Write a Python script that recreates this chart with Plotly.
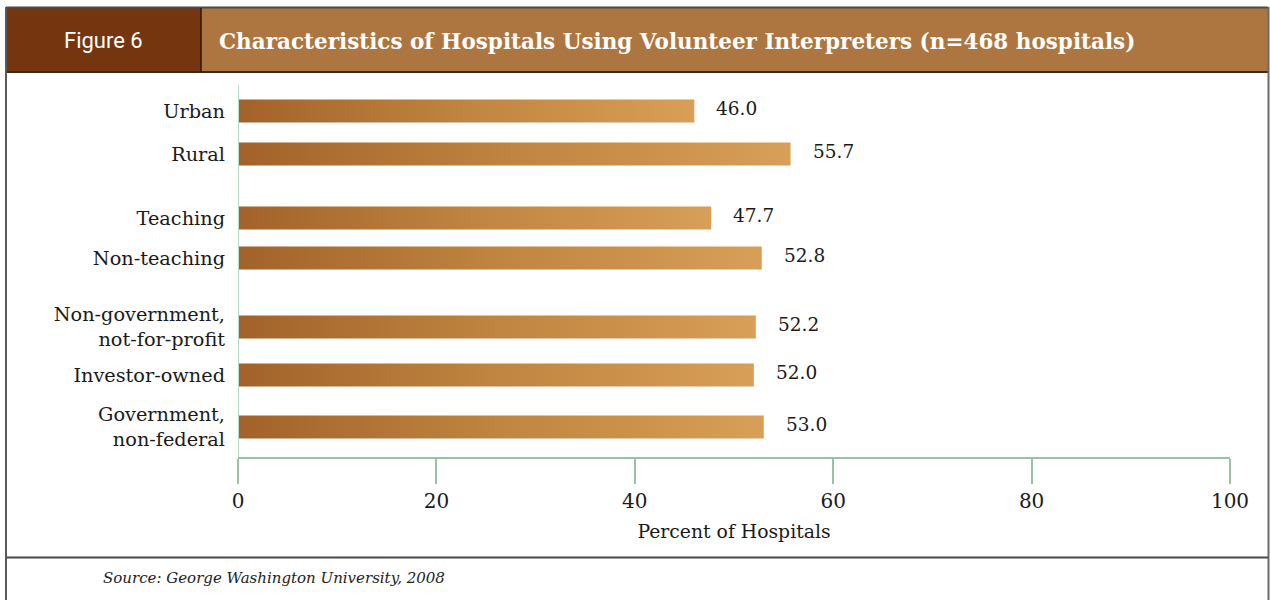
import plotly.graph_objects as go

# ---- data ----
categories = ["Urban", "Rural", "Teaching", "Non-teaching",
              "Non-government,<br>not-for-profit", "Investor-owned",
              "Government,<br>non-federal"]
values = [46.0, 55.7, 47.7, 52.8, 52.2, 52.0, 53.0]
x_ticks = [0, 20, 40, 60, 80, 100]
x_title = "Percent of Hospitals"
fig_label = "Figure 6"
title = "Characteristics of Hospitals Using Volunteer Interpreters (n=468 hospitals)"
source = "Source: George Washington University, 2008"

# ---- layout constants ----
W, H = 1270, 600
L, R, T, B = 238, 40, 85, 143
PW, PH = W - L - R, H - T - B
row_pos = [346, 303, 239, 199, 130, 82, 30]   # row centres (y axis units = px above x axis)
bar_h = 23
SERIF = "DejaVu Serif"
AXIS_COL = "#98c2a6"
TXT = "#1a1a1a"

def px(x):
    return (x - L) / PW

def py(y):
    return (H - B - y) / PH

fig = go.Figure()

for cat, v, p in zip(categories, values, row_pos):
    lo, hi = p - bar_h / 2, p + bar_h / 2
    fig.add_trace(go.Scatter(
        x=[0, v, v, 0, 0], y=[lo, lo, hi, hi, lo],
        mode="lines", fill="toself",
        line=dict(width=0, color="rgba(0,0,0,0)"),
        fillgradient=dict(type="horizontal",
                          colorscale=[[0, "#a2622a"], [0.5, "#c08540"], [1, "#d89f58"]]),
        hoverinfo="skip", showlegend=False,
    ))
    fig.add_annotation(x=v, y=p, xref="x", yref="y", text=f"{v:.1f}",
                       showarrow=False, xanchor="left", xshift=20, yshift=3,
                       font=dict(family=SERIF, size=18.5, color=TXT))

fig.update_xaxes(range=[0, 100], tickvals=x_ticks, showgrid=False, zeroline=False,
                 showline=True, linecolor=AXIS_COL, linewidth=1.5,
                 ticks="outside", ticklen=25, tickcolor=AXIS_COL, tickwidth=1.5,
                 tickfont=dict(family=SERIF, size=20, color=TXT),
                 title=dict(text=x_title, standoff=13,
                            font=dict(family=SERIF, size=18.8, color=TXT)),
                 fixedrange=True)
fig.update_yaxes(range=[0, PH], tickvals=row_pos, ticktext=categories,
                 showgrid=False, zeroline=False, showline=False, ticks="",
                 ticklabelstandoff=12,
                 tickfont=dict(family=SERIF, size=19.3, color=TXT),
                 fixedrange=True)

shapes = []
# vertical axis line extending below the x axis
shapes.append(dict(type="line", xref="x", yref="y", x0=0, x1=0, y0=-25, y1=PH,
                   line=dict(color="#b9dbc8", width=2)))
# header boxes
shapes.append(dict(type="rect", xref="paper", yref="paper", x0=px(7), x1=px(201),
                   y0=py(72), y1=py(8), fillcolor="#74350f", line=dict(width=0), layer="below"))
shapes.append(dict(type="rect", xref="paper", yref="paper", x0=px(201), x1=px(1268),
                   y0=py(72), y1=py(8), fillcolor="#ad7640", line=dict(width=0), layer="below"))
# header outline lines / frame
for (x0, y0, x1, y1, w, c) in [
    (6, 7.5, 1268, 7.5, 2, "#4a4a4a"),
    (6, 72, 1268, 72, 2, "#3a2a1a"),
    (201, 8, 201, 72, 1.5, "#2a1a0a"),
    (6, 7, 6, 600, 2, "#5a5a5a"),
    (1268.5, 7, 1268.5, 600, 2, "#6a6a6a"),
    (6, 557.5, 1268, 557.5, 2, "#4a4a4a"),
]:
    shapes.append(dict(type="line", xref="paper", yref="paper",
                       x0=px(x0), x1=px(x1), y0=py(y0), y1=py(y1),
                       line=dict(color=c, width=w)))

annos = [
    dict(x=px(103), y=py(40), xref="paper", yref="paper", text=fig_label,
         showarrow=False, xanchor="center", yanchor="middle",
         font=dict(family="Roboto", size=22, color="white")),
    dict(x=px(217), y=py(41), xref="paper", yref="paper", text=f"<b>{title}</b>",
         showarrow=False, xanchor="left", yanchor="middle",
         font=dict(family=SERIF, size=21.5, color="white")),
    dict(x=px(101), y=py(578), xref="paper", yref="paper", text=f"<i>{source}</i>",
         showarrow=False, xanchor="left", yanchor="middle",
         font=dict(family=SERIF, size=15, color="#222")),
]
for a in annos:
    fig.add_annotation(**a)

fig.update_layout(width=W, height=H, margin=dict(l=L, r=R, t=T, b=B),
                  paper_bgcolor="white", plot_bgcolor="white",
                  shapes=shapes, showlegend=False)

fig.write_html("out.html", config={"displayModeBar": False})
